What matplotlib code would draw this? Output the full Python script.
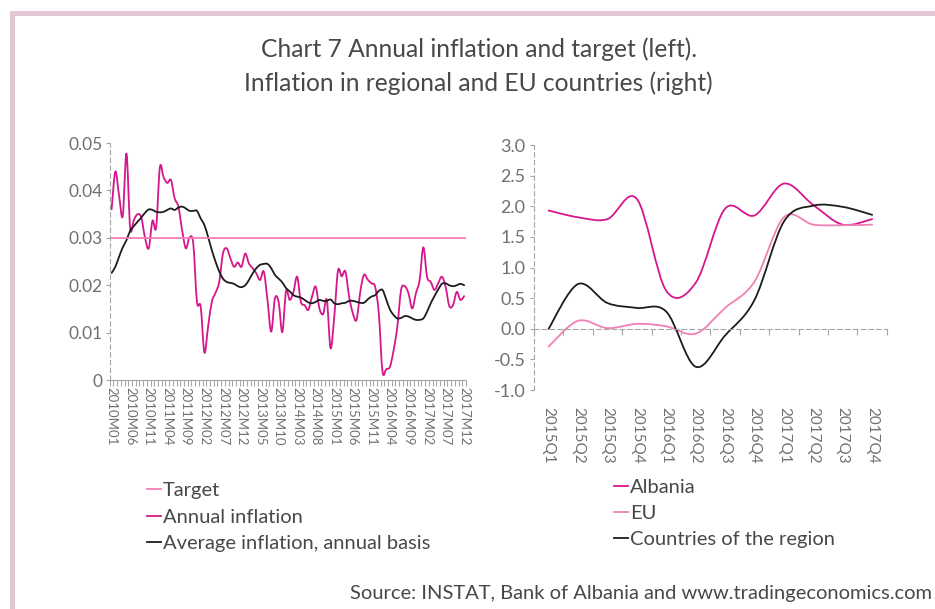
"""Chart 7: annual inflation vs target (left), regional and EU inflation (right)"""

import numpy as np
import matplotlib
matplotlib.use('Agg')
import matplotlib.pyplot as plt
from matplotlib.path import Path
from matplotlib.patches import PathPatch, Rectangle
from matplotlib.lines import Line2D

plt.rcParams['font.family'] = ['Lato', 'DejaVu Sans']
plt.rcParams['font.weight'] = 'normal'

# --- left panel data (monthly, 2010M01 .. 2017M12) ---
annual_inflation = [
    0.0360, 0.0440, 0.0390, 0.0346, 0.0478, 0.0320, 0.0338, 0.0350, 0.0343, 0.0300,
    0.0278, 0.0336, 0.0322, 0.0449, 0.0428, 0.0416, 0.0422, 0.0383, 0.0366, 0.0316,
    0.0278, 0.0301, 0.0288, 0.0165, 0.0155, 0.0058, 0.0113, 0.0165, 0.0184, 0.0207,
    0.0267, 0.0278, 0.0257, 0.0239, 0.0248, 0.0239, 0.0267, 0.0246, 0.0236, 0.0225,
    0.0211, 0.0229, 0.0169, 0.0102, 0.0172, 0.0165, 0.0101, 0.0188, 0.0169, 0.0186,
    0.0218, 0.0165, 0.0158, 0.0148, 0.0176, 0.0197, 0.0151, 0.0139, 0.0169, 0.0067,
    0.0134, 0.0231, 0.0219, 0.0229, 0.0176, 0.0141, 0.0127, 0.0186, 0.0222, 0.0212,
    0.0204, 0.0197, 0.0141, 0.0018, 0.0023, 0.0028, 0.0063, 0.0113, 0.0190, 0.0198,
    0.0183, 0.0151, 0.0183, 0.0211, 0.0280, 0.0218, 0.0207, 0.0190, 0.0204, 0.0218,
    0.0197, 0.0156, 0.0158, 0.0186, 0.0169, 0.0177,
]
average_inflation = [
    0.0226, 0.0239, 0.0260, 0.0280, 0.0295, 0.0315, 0.0325, 0.0334, 0.0343, 0.0353,
    0.0360, 0.0359, 0.0355, 0.0354, 0.0355, 0.0359, 0.0362, 0.0359, 0.0364, 0.0366,
    0.0362, 0.0357, 0.0357, 0.0357, 0.0341, 0.0327, 0.0302, 0.0274, 0.0250, 0.0229,
    0.0214, 0.0207, 0.0205, 0.0203, 0.0198, 0.0196, 0.0200, 0.0211, 0.0225, 0.0236,
    0.0243, 0.0245, 0.0245, 0.0236, 0.0222, 0.0214, 0.0206, 0.0194, 0.0187, 0.0179,
    0.0176, 0.0174, 0.0169, 0.0164, 0.0162, 0.0165, 0.0169, 0.0167, 0.0167, 0.0170,
    0.0162, 0.0160, 0.0162, 0.0163, 0.0167, 0.0167, 0.0165, 0.0163, 0.0163, 0.0170,
    0.0176, 0.0179, 0.0188, 0.0190, 0.0170, 0.0149, 0.0137, 0.0130, 0.0131, 0.0135,
    0.0134, 0.0130, 0.0127, 0.0127, 0.0130, 0.0144, 0.0162, 0.0177, 0.0191, 0.0203,
    0.0204, 0.0200, 0.0198, 0.0200, 0.0203, 0.0200,
]
target = 0.03
month_labels = [
    '2010M01', '2010M06', '2010M11', '2011M04', '2011M09', '2012M02', '2012M07',
    '2012M12', '2013M05', '2013M10', '2014M03', '2014M08', '2015M01', '2015M06',
    '2015M11', '2016M04', '2016M09', '2017M02', '2017M07', '2017M12',
]
left_yticks = [0, 0.01, 0.02, 0.03, 0.04, 0.05]
left_ylabels = ['0', '0.01', '0.02', '0.03', '0.04', '0.05']

# --- right panel data (quarterly, %) ---
quarters = ['2015Q1', '2015Q2', '2015Q3', '2015Q4', '2016Q1', '2016Q2',
            '2016Q3', '2016Q4', '2017Q1', '2017Q2', '2017Q3', '2017Q4']
albania = [1.93, 1.82, 1.79, 2.12, 0.62, 0.75, 1.96, 1.85, 2.37, 2.02, 1.70, 1.79]
eu = [-0.29, 0.13, 0.01, 0.08, 0.04, -0.08, 0.34, 0.77, 1.82, 1.70, 1.69, 1.70]
region = [0.0, 0.73, 0.42, 0.34, 0.28, -0.62, -0.11, 0.47, 1.75, 2.01, 1.99, 1.86]
right_yticks = [-1.0, -0.5, 0.0, 0.5, 1.0, 1.5, 2.0, 2.5, 3.0]
right_ylabels = ['-1.0', '-0.5', '0.0', '0.5', '1.0', '1.5', '2.0', '2.5', '3.0']

MAGENTA = '#d5168c'
PINK = '#f27fb5'
DARK = '#1c1c1c'
GRID_GREY = '#a6a6a6'
TEXT_GREY = '#707070'
TEXT_DARK = '#484848'
BORDER = '#e4c7d5'


def smooth_line(ax, y, color, lw):
    """Smoothed line like in Excel: cubic Bezier through the data points."""
    y = np.asarray(y, dtype=float)
    x = np.arange(len(y), dtype=float)
    pts = np.column_stack([x, y])
    verts = [pts[0]]
    codes = [Path.MOVETO]
    n = len(pts)
    for i in range(n - 1):
        p0 = pts[max(i - 1, 0)]
        p1 = pts[i]
        p2 = pts[i + 1]
        p3 = pts[min(i + 2, n - 1)]
        c1 = p1 + (p2 - p0) / 6.0
        c2 = p2 - (p3 - p1) / 6.0
        verts += [c1, c2, p2]
        codes += [Path.CURVE4] * 3
    patch = PathPatch(Path(verts, codes), facecolor='none', edgecolor=color,
                      lw=lw, capstyle='round', joinstyle='round')
    ax.add_patch(patch)
    return patch


fig = plt.figure(figsize=(9.35, 6.09), dpi=100)

# рамка слева и сверху
fig.add_artist(Rectangle((10 / 935, 0), 5 / 935, 1 - 11 / 609,
                         transform=fig.transFigure, color=BORDER, lw=0))
fig.add_artist(Rectangle((10 / 935, 1 - 16 / 609), 1, 5 / 609,
                         transform=fig.transFigure, color=BORDER, lw=0))

fig.text(0.512, 0.891, 'Chart 7 Annual inflation and target (left).\n'
         'Inflation in regional and EU countries (right)',
         ha='center', va='center', fontsize=17.7, color=TEXT_DARK,
         linespacing=1.55)

# ---------------- left panel ----------------
ax1 = fig.add_axes([0.1174, 0.376, 0.381, 0.389])
n_months = len(annual_inflation)
ax1.axhline(target, color=PINK, lw=1.3)
smooth_line(ax1, annual_inflation, MAGENTA, 1.3)
smooth_line(ax1, average_inflation, DARK, 1.3)
ax1.set_xlim(-0.5, n_months - 0.5)
ax1.set_ylim(0, 0.05)

ax1.set_yticks(left_yticks, left_ylabels)
ax1.set_xticks(np.arange(0, n_months, 5), month_labels)
ax1.set_xticks(np.arange(-0.5, n_months, 1), minor=True)
ax1.tick_params(axis='x', which='major', length=0, pad=5,
                labelsize=9.5, labelcolor=TEXT_GREY, labelrotation=-90)
ax1.tick_params(axis='x', which='minor', length=4, color=GRID_GREY, width=0.8)
ax1.tick_params(axis='y', length=3, color=GRID_GREY, width=0.8, pad=2,
                labelsize=12.5, labelcolor=TEXT_GREY)
for lbl in ax1.get_xticklabels():
    lbl.set_va('top')

for side in ('top', 'right'):
    ax1.spines[side].set_visible(False)
ax1.spines['left'].set_linestyle((0, (4, 3)))
ax1.spines['left'].set_color(GRID_GREY)
ax1.spines['bottom'].set_color(GRID_GREY)
ax1.spines['bottom'].set_linewidth(0.8)

left_handles = [Line2D([], [], color=PINK, lw=1.3),
                Line2D([], [], color=MAGENTA, lw=1.3),
                Line2D([], [], color=DARK, lw=1.3)]
fig.legend(left_handles, ['Target', 'Annual inflation',
                          'Average inflation, annual basis'],
           loc='upper left', bbox_to_anchor=(0.157, 0.208), frameon=False,
           handlelength=0.7, handletextpad=0.1, labelspacing=0.45,
           fontsize=14.5, labelcolor=TEXT_DARK, borderaxespad=0,
           borderpad=0)

# ---------------- right panel ----------------
ax2 = fig.add_axes([0.571, 0.3596, 0.3775, 0.4023])
smooth_line(ax2, albania, MAGENTA, 1.3)
smooth_line(ax2, eu, PINK, 1.3)
smooth_line(ax2, region, DARK, 1.3)
n_q = len(quarters)
ax2.set_xlim(-0.5, n_q - 0.5)
ax2.set_ylim(-1.0, 3.0)
ax2.set_yticks(right_yticks, right_ylabels)
ax2.tick_params(axis='y', length=3, color=GRID_GREY, width=0.8, pad=3,
                labelsize=13, labelcolor=TEXT_GREY)

# zero axis with category boundary ticks
ax2.spines['bottom'].set_position(('data', 0))
ax2.spines['bottom'].set_linestyle((0, (4, 3)))
ax2.spines['bottom'].set_color(GRID_GREY)
ax2.set_xticks(np.arange(-0.5, n_q, 1))
ax2.tick_params(axis='x', length=4, color=GRID_GREY, width=0.8,
                labelbottom=False)

# category labels at bottom
sec = ax2.secondary_xaxis('bottom')
sec.set_xticks(np.arange(n_q), quarters)
sec.tick_params(length=0, pad=12, labelsize=11, labelcolor=TEXT_GREY,
                labelrotation=-90)
sec.spines['bottom'].set_visible(False)
for lbl in sec.get_xticklabels():
    lbl.set_va('top')

for side in ('top', 'right'):
    ax2.spines[side].set_visible(False)
ax2.spines['left'].set_linestyle((0, (4, 3)))
ax2.spines['left'].set_color(GRID_GREY)

right_handles = [Line2D([], [], color=MAGENTA, lw=1.3),
                 Line2D([], [], color=PINK, lw=1.3),
                 Line2D([], [], color=DARK, lw=1.3)]
fig.legend(right_handles, ['Albania', 'EU', 'Countries of the region'],
           loc='upper left', bbox_to_anchor=(0.657, 0.214), frameon=False,
           handlelength=0.7, handletextpad=0.1, labelspacing=0.45,
           fontsize=14.5, labelcolor=TEXT_DARK, borderaxespad=0,
           borderpad=0)

fig.text(0.374, 0.026, 'Source: INSTAT, Bank of Albania and www.tradingeconomics.com',
         ha='left', va='center', fontsize=14.5, color=TEXT_DARK)

fig.savefig('out.png', dpi=100)
